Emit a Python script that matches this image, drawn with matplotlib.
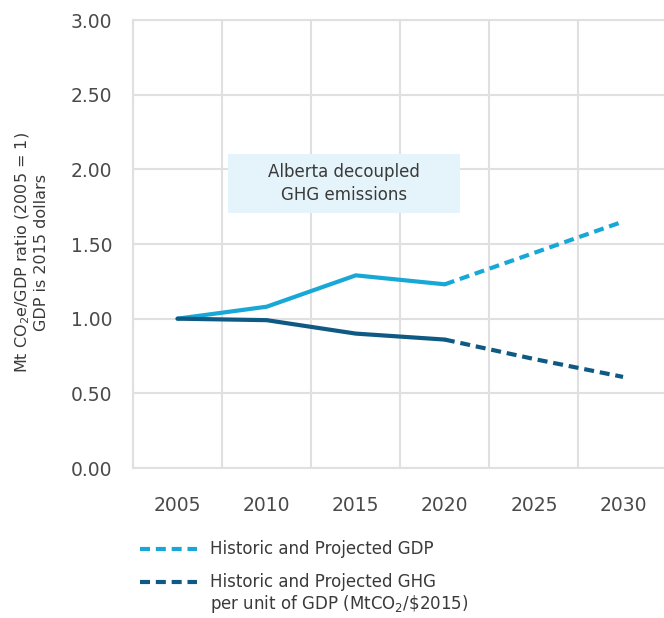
import matplotlib.pyplot as plt
from matplotlib.lines import Line2D
from matplotlib.patches import Rectangle

plt.rcParams['font.family'] = ['DejaVu Sans']

years = ["2005", "2010", "2015", "2020", "2025", "2030"]
gdp = [1.00, 1.08, 1.29, 1.23, 1.44, 1.65]
ghg_per_gdp = [1.00, 0.99, 0.90, 0.86, 0.73, 0.61]
last_historic = 3  # index of 2020, where projections start

light = "#18a8d8"
dark = "#0f5a83"
grid_col = "#e0e0e0"
text_col = "#3a3a3a"
dash = (0, (2.4, 1.4))

W, H = 664, 618
fig = plt.figure(figsize=(W / 100, H / 100), dpi=100)
ax = fig.add_axes([133 / W, 150 / H, 531 / W, 448 / H])

x = list(range(len(years)))
h = slice(0, last_historic + 1)
p = slice(last_historic, len(years))

ax.plot(x[h], gdp[h], color=light, lw=3, solid_capstyle="round")
ax.plot(x[p], gdp[p], color=light, lw=3, ls=dash)
ax.plot(x[h], ghg_per_gdp[h], color=dark, lw=3, solid_capstyle="round")
ax.plot(x[p], ghg_per_gdp[p], color=dark, lw=3, ls=dash)

ax.set_xlim(-0.5, 5.46)
ax.set_ylim(0, 3)
ax.set_xticks(x)
ax.set_xticklabels(years)
ax.set_xticks([i - 0.5 for i in x], minor=True)
ax.set_yticks([0, 0.5, 1, 1.5, 2, 2.5, 3])
ax.set_yticklabels(["%.2f" % v for v in ax.get_yticks()])
ax.grid(True, which="minor", axis="x", color=grid_col, lw=1.5)
ax.grid(True, which="major", axis="y", color=grid_col, lw=1.5)
ax.set_axisbelow(True)
ax.tick_params(which="both", length=0, labelsize=13.5, colors="#4a4a4a")
ax.tick_params(axis="x", pad=20)
ax.tick_params(axis="y", pad=15)
for s in ax.spines.values():
    s.set_color(grid_col)
    s.set_linewidth(1.5)
ax.spines["right"].set_visible(False)

ax.set_ylabel("Mt CO$_2$e/GDP ratio (2005 = 1)\nGDP is 2015 dollars",
              fontsize=11.5, color=text_col, linespacing=1.15)
ax.yaxis.set_label_coords(-84 / 531, 0.48)

# callout box
ax.add_patch(Rectangle((0.57, 1.71), 2.6, 0.39, facecolor="#e5f4fa",
                       edgecolor="none", zorder=1.5))
ax.text(1.87, 1.905, "Alberta decoupled\nGHG emissions", ha="center",
        va="center", fontsize=12, color=text_col, linespacing=1.3)

# legend drawn by hand so the dash sits on the first line of each label
legend_items = [(light, "Historic and Projected GDP", 549),
                (dark, "Historic and Projected GHG\nper unit of GDP (MtCO$_2$/\\$2015)", 582)]
for col, lab, yy in legend_items:
    fig.add_artist(Line2D([140 / W, 197 / W], [1 - yy / H, 1 - yy / H],
                          transform=fig.transFigure, color=col, lw=3, ls=dash))
    fig.text(210 / W, 1 - (yy - 9) / H, lab, ha="left", va="top",
             fontsize=12, color=text_col, linespacing=1.15)

fig.savefig("out.png", dpi=100)
plt.close(fig)
